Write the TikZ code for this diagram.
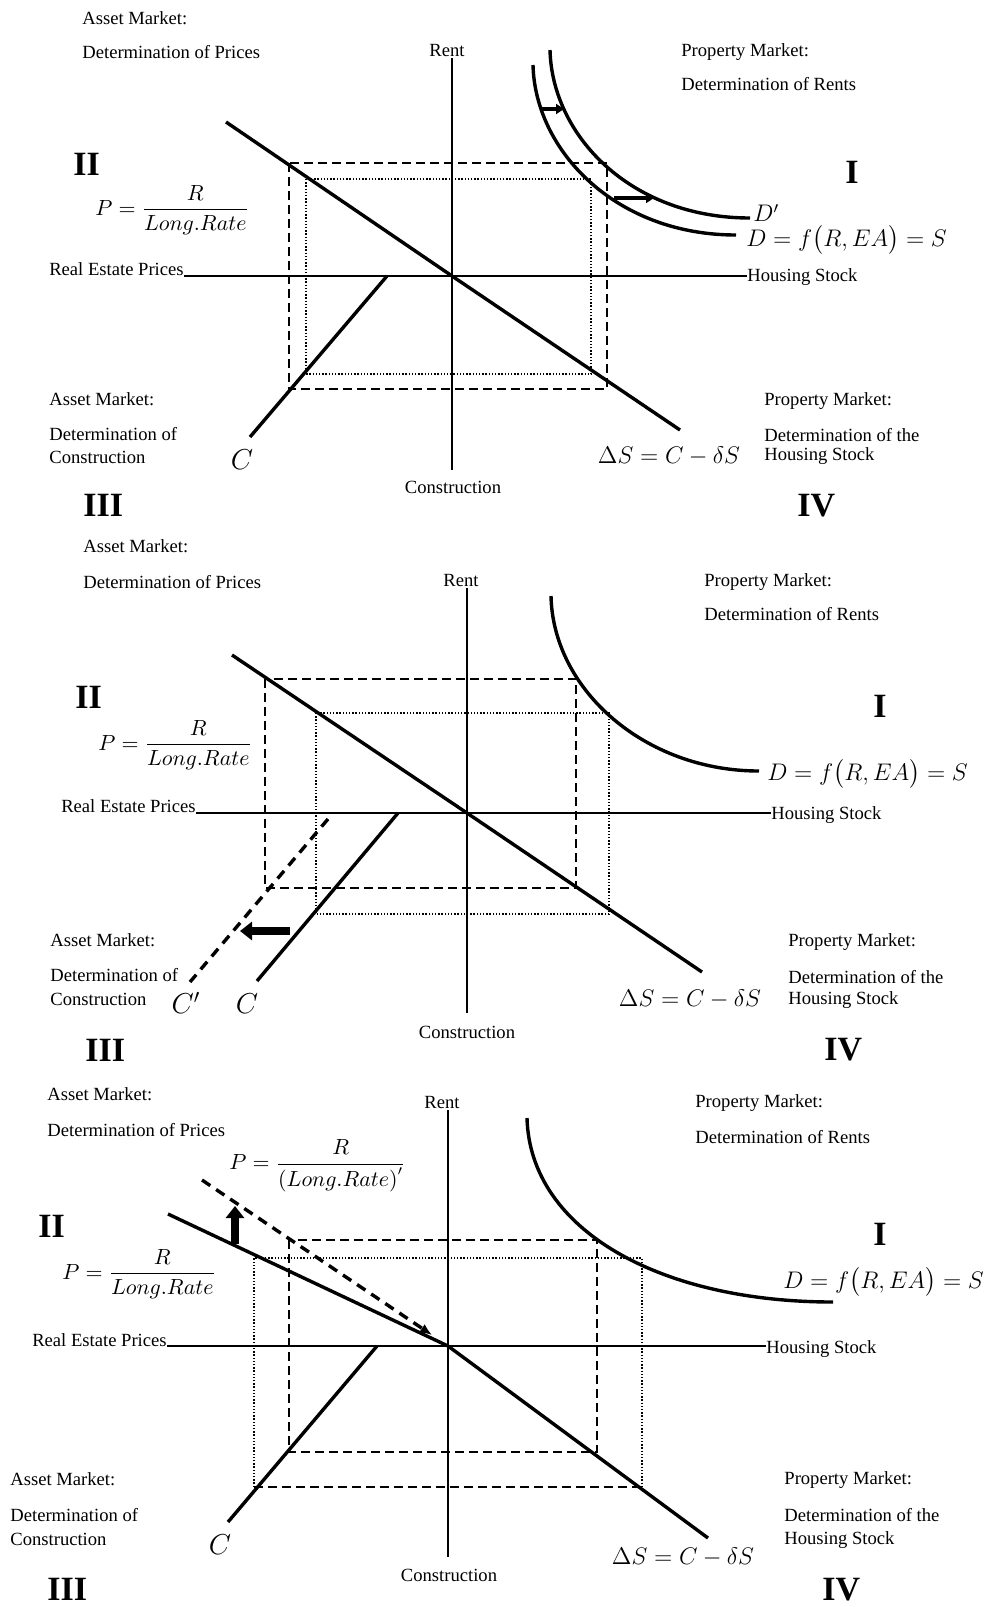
\documentclass[tikz,border=0pt]{standalone}
\usepackage{amsmath}
\usepackage{fontspec}
\setmainfont{Liberation Serif}
\usetikzlibrary{arrows.meta}

\begin{document}
\begin{tikzpicture}[x=0.5pt,y=-0.5pt,
	txt/.style={inner sep=0pt,anchor=base west,font=\fontsize{9.3}{11}\selectfont},
	quad/.style={inner sep=0pt,anchor=base west,font=\bfseries\fontsize{17}{20}\selectfont},
	eqp/.style={inner sep=0pt,anchor=west,font=\fontsize{10.6}{13}\selectfont},
	eqd/.style={inner sep=0pt,font=\fontsize{11.6}{14}\selectfont},
	eqc/.style={inner sep=0pt,font=\fontsize{14}{16}\selectfont},
	axisline/.style={line width=1pt},
	mline/.style={line width=1.7pt},
	dsh/.style={line width=1pt,dash pattern=on 4.5pt off 2.5pt},
	dotbox/.style={line width=1pt,dash pattern=on 0.7pt off 0.9pt},
	longdash/.style={line width=1.7pt,dash pattern=on 5pt off 3.5pt},
	fatarrow/.style={line width=4pt,-{Triangle[length=6pt,width=9pt]}}]
			\useasboundingbox[fill=white] (0,0) rectangle (991,1607);
			% ---------------- panel 1 ----------------
			\foreach \n/\x/\y/\t in {a/82/24/{Asset Market:}, b/82/58/{Determination of Prices},
				c/681/56/{Property Market:}, d/681/90/{Determination of Rents},
				e/49/405/{Asset Market:}, f/49/440/{Determination of}, g/49/463/{Construction},
				h/764/405/{Property Market:}, i/764/441/{Determination of the}, j/764/460/{Housing Stock}}
				\node[txt] (p1\n) at (\x,\y) {\t};
			\foreach \n/\x/\y in {I/845/183, II/73/175, III/83/516, IV/797/516}
				\node[quad] (p1\n) at (\x,\y) {\n};
			% axes
			\coordinate (O1) at (452,276);
			\node[txt,anchor=base] (p1rent) at (447,56) {Rent};
			\node[txt,anchor=base] (p1cons) at (453,493) {Construction};
			\node[txt,anchor=base east] (p1rep) at (184,275) {Real Estate Prices};
			\node[txt] (p1hs) at (747,281) {Housing Stock};
			\draw[axisline] (452,58) -- (452,470);
			\draw[axisline] (p1rep.east |- O1) -- (p1hs.west |- O1);
			% curves
			\draw[mline] (226,122) -- (O1) -- (680,430);
			\draw[mline] (387,276) -- (250,437);
			\draw[mline] (533,65) .. controls (535,150) and (615,235) .. (736,235);
			\draw[mline] (550,50) .. controls (552,135) and (630,218) .. (750,218);
			\draw[mline,-{Triangle[length=4pt,width=5pt]}] (541,109) -- (564,109);
			\draw[mline,-{Triangle[length=4pt,width=5pt]}] (614,198) -- (654,198);
			% boxes
			\draw[dsh] (289,163) rectangle (607,389);
			\draw[dotbox] (306,179) rectangle (591,374);
			% equations
			\node[eqp] (p1pe) at (95,210) {$P=\dfrac{R}{Long.Rate}$};
			\node[eqd,anchor=west] (p1dp) at (753,213) {$D'$};
			\node[eqd,anchor=west] (p1de) at (746,240) {$D=f\bigl(R,EA\bigr)=S$};
			\node[eqd] (p1se) at (669,456) {$\Delta S=C-\delta S$};
			\node[eqc] (p1c) at (242,460) {$C$};
			% ---------------- panel 2 ----------------
			\foreach \n/\x/\y/\t in {a/83/552/{Asset Market:}, b/83/588/{Determination of Prices},
				c/704/586/{Property Market:}, d/704/620/{Determination of Rents},
				e/50/946/{Asset Market:}, f/50/981/{Determination of}, g/50/1005/{Construction},
				h/788/946/{Property Market:}, i/788/983/{Determination of the}, j/788/1004/{Housing Stock}}
				\node[txt] (p2\n) at (\x,\y) {\t};
			\foreach \n/\x/\y in {I/873/717, II/75/708, III/85/1061, IV/824/1060}
				\node[quad] (p2\n) at (\x,\y) {\n};
			% axes
			\coordinate (O2) at (467,813);
			\node[txt,anchor=base] (p2rent) at (461,586) {Rent};
			\node[txt,anchor=base] (p2cons) at (467,1038) {Construction};
			\node[txt,anchor=base east] (p2rep) at (196,812) {Real Estate Prices};
			\node[txt] (p2hs) at (771,819) {Housing Stock};
			\draw[axisline] (467,588) -- (467,1013);
			\draw[axisline] (p2rep.east |- O2) -- (p2hs.west |- O2);
			% curves
			\draw[mline] (232,655) -- (O2) -- (702,972);
			\draw[mline] (398,813) -- (257,981);
			\draw[longdash] (328,819) -- (190,982);
			\draw[mline] (551,596) .. controls (553,690) and (645,771) .. (759,771);
			\draw[fatarrow] (290,931) -- (240,931);
			% boxes
			\draw[dsh] (265,679) rectangle (576,888);
			\draw[dotbox] (316,713) rectangle (609,914);
			% equations
			\node[eqp] (p2pe) at (98,745) {$P=\dfrac{R}{Long.Rate}$};
			\node[eqd,anchor=west] (p2de) at (767,774) {$D=f\bigl(R,EA\bigr)=S$};
			\node[eqd] (p2se) at (690,999) {$\Delta S=C-\delta S$};
			\node[eqc] (p2c) at (247,1004) {$C$};
			\node[eqc] (p2cp) at (186,1003) {$C'$};
			% ---------------- panel 3 ----------------
			\foreach \n/\x/\y/\t in {a/47/1100/{Asset Market:}, b/47/1136/{Determination of Prices},
				c/695/1107/{Property Market:}, d/695/1143/{Determination of Rents},
				e/10/1485/{Asset Market:}, f/10/1521/{Determination of}, g/10/1545/{Construction},
				h/784/1484/{Property Market:}, i/784/1521/{Determination of the}, j/784/1544/{Housing Stock}}
				\node[txt] (p3\n) at (\x,\y) {\t};
			\foreach \n/\x/\y in {I/873/1245, II/38/1237, III/47/1600, IV/822/1600}
				\node[quad] (p3\n) at (\x,\y) {\n};
			% axes
			\coordinate (O3) at (448,1346);
			\node[txt,anchor=base] (p3rent) at (442,1108) {Rent};
			\node[txt,anchor=base] (p3cons) at (449,1581) {Construction};
			\node[txt,anchor=base east] (p3rep) at (167,1346) {Real Estate Prices};
			\node[txt] (p3hs) at (766,1353) {Housing Stock};
			\draw[axisline] (448,1110) -- (448,1557);
			\draw[axisline] (p3rep.east |- O3) -- (p3hs.west |- O3);
			% curves
			\draw[mline] (168,1214) -- (O3) -- (708,1538);
			\draw[mline] (377,1346) -- (228,1522);
			\draw[mline] (527,1118) .. controls (530,1230) and (660,1302) .. (833,1302);
			\draw[longdash,-{Latex[length=6pt,width=5pt]}] (202,1180) -- (432,1335);
			\draw[fatarrow] (235,1244) -- (235,1206);
			% boxes
			\draw[dsh] (289,1240) rectangle (597,1452);
			\draw[dotbox] (254,1487) -- (254,1258) -- (642,1258) -- (642,1487);
			\draw[dsh] (254,1487) -- (642,1487);
			% equations
			\node[eqp] (p3pe) at (62,1274) {$P=\dfrac{R}{Long.Rate}$};
			\node[eqp] (p3pn) at (229,1166) {$P=\dfrac{R}{\left(Long.Rate\right)'}$};
			\node[eqd,anchor=west] (p3de) at (783,1282) {$D=f\bigl(R,EA\bigr)=S$};
			\node[eqd] (p3se) at (683,1557) {$\Delta S=C-\delta S$};
			\node[eqc] (p3c) at (220,1545) {$C$};
\end{tikzpicture}
\end{document}
